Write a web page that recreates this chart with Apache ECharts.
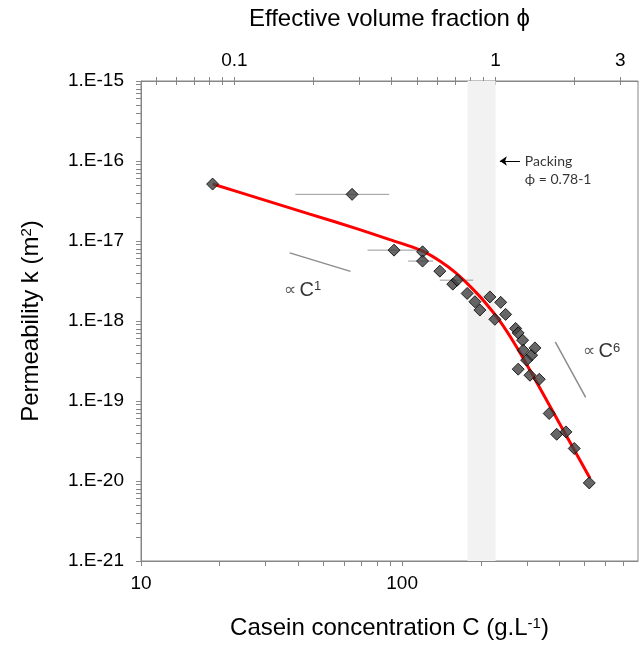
<!DOCTYPE html>
<html>
<head>
<meta charset="utf-8">
<script src="https://cdn.jsdelivr.net/npm/echarts@6.0.0/dist/echarts.min.js"></script>
<style>
html, body { margin: 0; padding: 0; background: #fff; }
#chart { width: 644px; height: 648px; }
</style>
</head>
<body>
<div id="chart"></div>
<script>
// measured points: casein concentration C (g/L) and permeability k (m2)
const concC = [18.8, 64.3, 93.1, 119.7, 119.7, 139.4, 156.3, 162.4, 177.4, 190, 198.5, 216.8, 226.5, 238.4, 249,
    272, 278, 289.2, 290.8, 313.2, 322.4, 299.7, 278.2, 308.6, 335, 365.6, 390.5, 423.8, 456, 520.5];
const permK = [5.15e-17, 3.83e-17, 7.69e-18, 7.33e-18, 5.61e-18, 4.2e-18, 2.89e-18, 3.24e-18, 2.21e-18, 1.74e-18, 1.37e-18, 2.0e-18, 1.05e-18, 1.71e-18, 1.21e-18,
    8.07e-19, 7.1e-19, 5.75e-19, 4.31e-19, 3.74e-19, 4.61e-19, 3.24e-19, 2.5e-19, 2.1e-19, 1.87e-19, 6.98e-20, 3.84e-20, 4.11e-20, 2.55e-20, 9.46e-21];

// horizontal error bars (C range at a given k)
const errLo = [39.0, 73.7, 105.4, 139.4];
const errHi = [89.2, 118, 131.5, 187.1];
const errK = [3.83e-17, 7.69e-18, 5.61e-18, 3.24e-18];

// red model curve
const fitC = [18.8, 28.5, 44.3, 68.8, 89.7, 107.0, 122.2, 139.4, 159.2, 181.7, 207.5, 236.7, 270.3, 308.6, 402.0, 523.9];
const fitK = [5.15e-17, 3.39e-17, 2.17e-17, 1.39e-17, 1.04e-17, 8.63e-18, 7.26e-18, 5.61e-18, 4.08e-18, 2.73e-18, 1.72e-18, 9.95e-19, 5.13e-19, 2.43e-19, 5.13e-20, 1.08e-20];

// slope guides
const guide1C = [37.1, 63.4], guide1K = [7.11e-18, 4.17e-18];
const guide6C = [385.7, 504.3], guide6K = [5.48e-19, 1.11e-19];

// packing band in volume fraction, and phi = C / PHI0
const PHI0 = 228;
const packPhi = [0.78, 1];

// axes
const cMin = 10, cMax = 800;
const cTicks = [10, 20, 30, 40, 50, 60, 70, 80, 90, 100, 200, 300, 400, 500, 600, 700];
const cLabels = [10, 100];
const phiTicks = [0.05, 0.06, 0.07, 0.08, 0.09, 0.1, 0.2, 0.3, 0.4, 0.5, 0.6, 0.7, 0.8, 0.9, 1, 2, 3];
const phiLabels = [0.1, 1, 3];
const kExpMin = -21, kExpMax = -15;

const L = Math.log10;
const FONT = '"Liberation Sans", Arial, sans-serif';
const AXIS_COLOR = '#868686';

const kTicks = [];
for (let e = kExpMin; e < kExpMax; e++) {
    for (let m = 1; m <= 9; m++) kTicks.push(e + L(m));
}
kTicks.push(kExpMax);

const nameStyle = {
    fontSize: 24, color: '#000', fontFamily: FONT,
    rich: { sup: { fontSize: 15, verticalAlign: 'top', fontFamily: FONT, color: '#000' } }
};

const chart = echarts.init(document.getElementById('chart'));

const option = {
    animation: false,
    grid: { left: 141, right: 6, top: 81, bottom: 87, show: true, borderColor: AXIS_COLOR, borderWidth: 1 },
    xAxis: [
        {
            type: 'value', position: 'bottom', min: L(cMin), max: L(cMax),
            axisLine: { lineStyle: { color: AXIS_COLOR } },
            axisTick: { customValues: cTicks.map(L), length: 5, lineStyle: { color: AXIS_COLOR } },
            axisLabel: { customValues: cLabels.map(L), formatter: v => String(Math.round(Math.pow(10, v))),
                fontSize: 19, color: '#000', fontFamily: FONT, margin: 13 },
            splitLine: { show: false },
            name: 'Casein concentration C (g.L{sup|-1})', nameLocation: 'middle', nameGap: 55,
            nameTextStyle: nameStyle
        },
        {
            type: 'value', position: 'top', min: L(cMin), max: L(cMax),
            axisLine: { lineStyle: { color: AXIS_COLOR } },
            axisTick: { customValues: phiTicks.map(p => L(p * PHI0)), length: 4, lineStyle: { color: AXIS_COLOR } },
            axisLabel: { customValues: phiLabels.map(p => L(p * PHI0)),
                formatter: v => String(Number((Math.pow(10, v) / PHI0).toPrecision(1))),
                fontSize: 19, color: '#000', fontFamily: FONT, margin: 11 },
            splitLine: { show: false },
            name: 'Effective volume fraction ϕ', nameLocation: 'middle', nameGap: 50,
            nameTextStyle: nameStyle
        },
        {
            type: 'value', position: 'top', min: L(cMin), max: L(cMax),
            axisLine: { show: false },
            axisTick: { inside: true, customValues: phiTicks.map(p => L(p * PHI0)), length: 4, lineStyle: { color: AXIS_COLOR } },
            axisLabel: { show: false },
            splitLine: { show: false }
        }
    ],
    yAxis: {
        type: 'value', min: kExpMin, max: kExpMax, interval: 1,
        axisLine: { show: true, lineStyle: { color: AXIS_COLOR } },
        axisTick: { show: true, customValues: kTicks, length: 5, lineStyle: { color: AXIS_COLOR } },
        axisLabel: { formatter: v => '1.E' + v, fontSize: 19, color: '#000', fontFamily: FONT, margin: 17 },
        splitLine: { show: false },
        name: 'Permeability k (m{sup|2})', nameLocation: 'middle', nameGap: 98,
        nameTextStyle: nameStyle
    },
    series: [
        {
            name: 'packing', type: 'custom', z: 1,
            encode: { x: [0, 1] },
            data: [[L(packPhi[0] * PHI0), L(packPhi[1] * PHI0)]],
            renderItem: (params, api) => {
                const a = api.coord([api.value(0), kExpMax]);
                const b = api.coord([api.value(1), kExpMin]);
                return { type: 'rect', shape: { x: a[0], y: a[1], width: b[0] - a[0], height: b[1] - a[1] },
                    style: { fill: '#f2f2f2' } };
            },
            silent: true
        },
        {
            name: 'error', type: 'custom', z: 2,
            encode: { x: [0, 1], y: 2 },
            data: errLo.map((lo, i) => [L(lo), L(errHi[i]), L(errK[i])]),
            renderItem: (params, api) => {
                const a = api.coord([api.value(0), api.value(2)]);
                const b = api.coord([api.value(1), api.value(2)]);
                return { type: 'line', shape: { x1: a[0], y1: a[1], x2: b[0], y2: b[1] },
                    style: { stroke: '#9a9a9a', lineWidth: 1 } };
            },
            silent: true
        },
        ...[[guide1C, guide1K], [guide6C, guide6K]].map(([gc, gk]) => ({
            type: 'line', z: 2, showSymbol: false, silent: true,
            data: gc.map((c, i) => [L(c), L(gk[i])]),
            lineStyle: { color: '#8c8c8c', width: 1.5 }
        })),
        {
            name: 'model', type: 'line', z: 3, smooth: 0.2, showSymbol: false, silent: true,
            data: fitC.map((c, i) => [L(c), L(fitK[i])]),
            lineStyle: { color: '#ff0000', width: 3 }
        },
        {
            name: 'data', type: 'scatter', z: 4, symbol: 'diamond', symbolSize: 12,
            data: concC.map((c, i) => [L(c), L(permK[i])]),
            itemStyle: { color: '#404040', borderColor: '#000', borderWidth: 1 }
        },
        {
            name: 'notes', type: 'scatter', z: 5, symbolSize: 0, silent: true,
            data: [
                { value: [L(295), -16.113], label: { position: 'right', distance: 0, align: 'left',
                    formatter: 'Packing\nϕ = 0.78-1', fontFamily: 'Lato, sans-serif', fontSize: 14, lineHeight: 18, color: '#000' } },
                { value: [L(41.6), -17.614], label: { position: 'inside',
                    formatter: '{p|∝} {c|C}{s|1}' } },
                { value: [L(580.7), -18.386], label: { position: 'inside',
                    formatter: '{p|∝} {c|C}{s|6}' } }
            ],
            label: {
                show: true, color: '#000',
                rich: {
                    p: { fontSize: 17, fontFamily: '"DejaVu Sans", sans-serif', color: '#333' },
                    c: { fontSize: 20, fontFamily: FONT, color: '#000' },
                    s: { fontSize: 13, fontFamily: FONT, color: '#000', verticalAlign: 'top' }
                }
            },
            markLine: {
                silent: true, symbol: ['none', 'arrow'], symbolSize: 7,
                label: { show: false },
                lineStyle: { color: '#000', width: 1, type: 'solid' },
                data: [[{ coord: [L(282.5), -16] }, { coord: [L(236.7), -16] }]]
            }
        }
    ]
};

chart.setOption(option);
</script>
</body>
</html>
